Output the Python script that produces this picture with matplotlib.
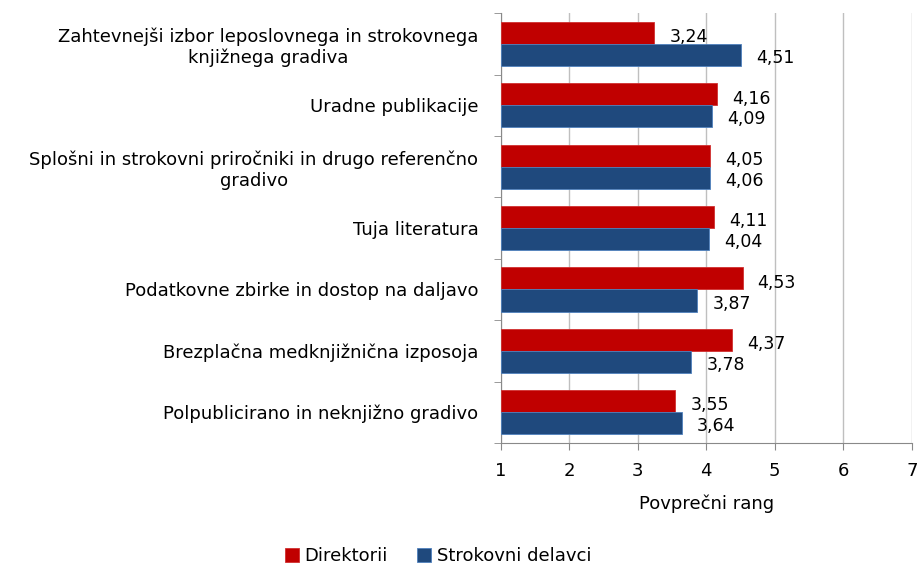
import numpy as np
import matplotlib.pyplot as plt

# Podatki
kategorije = [
    'Zahtevnejši izbor leposlovnega in strokovnega\nknjižnega gradiva',
    'Uradne publikacije',
    'Splošni in strokovni priročniki in drugo referenčno\ngradivo',
    'Tuja literatura',
    'Podatkovne zbirke in dostop na daljavo',
    'Brezplačna medknjižnična izposoja',
    'Polpublicirano in neknjižno gradivo',
]
direktorji = [3.24, 4.16, 4.05, 4.11, 4.53, 4.37, 3.55]
strokovni = [4.51, 4.09, 4.06, 4.04, 3.87, 3.78, 3.64]
x_ticks = [1, 2, 3, 4, 5, 6, 7]

plt.rcParams['font.family'] = 'DejaVu Sans'
fs = 13

fig = plt.figure(figsize=(9.22, 5.73), dpi=100)
ax = fig.add_axes([0.543, 0.227, 0.446, 0.75])

n = len(kategorije)
y = np.arange(n)
h = 0.36
base = 1

ax.barh(y - h / 2, np.array(direktorji) - base, left=base, height=h,
        color='#C00000', edgecolor='#D03030', linewidth=0.6, label='Direktorii', zorder=3)
ax.barh(y + h / 2, np.array(strokovni) - base, left=base, height=h,
        color='#1F497D', edgecolor='#4F81BD', linewidth=0.6, label='Strokovni delavci', zorder=3)

# oznake vrednosti
for i in range(n):
    ax.text(direktorji[i] + 0.22, y[i] - h / 2 + 0.07, f'{direktorji[i]:.2f}'.replace('.', ','),
            va='center', ha='left', fontsize=fs - 0.5)
    ax.text(strokovni[i] + 0.22, y[i] + h / 2 + 0.05, f'{strokovni[i]:.2f}'.replace('.', ','),
            va='center', ha='left', fontsize=fs - 0.5)

ax.set_xlim(1, 7)
ax.set_ylim(n - 0.5, -0.5)
ax.set_xticks(x_ticks)
ax.set_xticklabels([str(t) for t in x_ticks], fontsize=fs)
ax.set_yticks(y)
ax.set_yticklabels(kategorije, fontsize=fs)
for lab in ax.get_yticklabels():
    lab.set_multialignment('center')
ax.tick_params(axis='y', length=0, pad=16)
ax.set_yticks(np.arange(n + 1) - 0.5, minor=True)
ax.tick_params(axis='y', which='minor', length=5, color='#898989')
ax.tick_params(axis='x', length=5, color='#898989', pad=9)

ax.grid(axis='x', color='#BFBFBF', linewidth=1, zorder=0)
for s in ['top', 'right']:
    ax.spines[s].set_visible(False)
ax.spines['left'].set_color('#898989')
ax.spines['bottom'].set_color('#898989')

ax.set_xlabel('Povprečni rang', fontsize=fs, labelpad=10)

fig.legend(loc='lower center', bbox_to_anchor=(0.475, -0.015), ncol=2, frameon=False,
           fontsize=fs, handlelength=0.8, handleheight=0.8, handletextpad=0.3,
           columnspacing=1.6)

fig.savefig('out.png', dpi=100)
